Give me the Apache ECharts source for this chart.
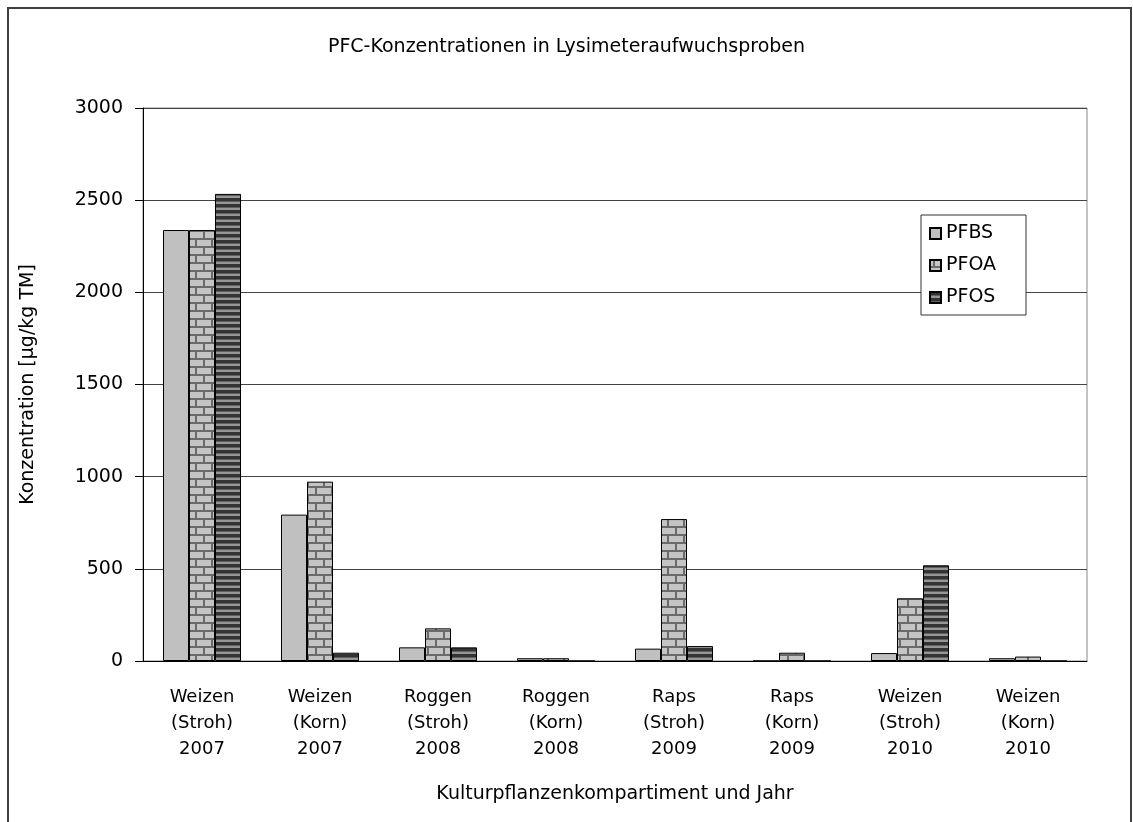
<!DOCTYPE html>
<html>
<head>
<meta charset="utf-8">
<script src="https://cdn.jsdelivr.net/npm/echarts@6/dist/echarts.min.js"></script>
<style>
  html, body { margin: 0; padding: 0; background: #fff; }
  #chart { width: 1133px; height: 822px; }
</style>
</head>
<body>
<div id="chart"></div>
<script>
var categories = [
  'Weizen\n(Stroh)\n2007', 'Weizen\n(Korn)\n2007', 'Roggen\n(Stroh)\n2008', 'Roggen\n(Korn)\n2008',
  'Raps\n(Stroh)\n2009', 'Raps\n(Korn)\n2009', 'Weizen\n(Stroh)\n2010', 'Weizen\n(Korn)\n2010'
];
var pfbs = [2338, 794, 74, 15, 67, 0, 43, 15];
var pfoa = [2338, 973, 177, 15, 770, 45, 340, 24];
var pfos = [2534, 45, 74, 0, 81, 0, 519, 0];

var font = 'DejaVu Sans, sans-serif';

// brick pattern for PFOA
function brick() {
  var c = document.createElement('canvas');
  c.width = 16; c.height = 16;
  var g = c.getContext('2d');
  g.fillStyle = '#c4c4c4';
  g.fillRect(0, 0, 16, 16);
  g.fillStyle = '#6a6a6a';
  g.fillRect(0, 6, 16, 2);
  g.fillRect(0, 14, 16, 2);
  g.fillRect(3, 0, 2, 6);
  g.fillRect(11, 8, 2, 6);
  return c;
}

// horizontal stripes for PFOS
function stripes() {
  var c = document.createElement('canvas');
  c.width = 6; c.height = 6;
  var g = c.getContext('2d');
  g.fillStyle = '#969696';
  g.fillRect(0, 0, 6, 6);
  g.fillStyle = '#333';
  g.fillRect(0, 0, 6, 3);
  g.fillStyle = '#606060';
  g.fillRect(0, 3, 6, 1);
  return c;
}

var chart = echarts.init(document.getElementById('chart'));
chart.setOption({
  animation: false,
  backgroundColor: '#fff',
  textStyle: { fontFamily: font, color: '#000' },
  title: {
    text: 'PFC-Konzentrationen in Lysimeteraufwuchsproben',
    left: 'center',
    top: 33,
    textStyle: { fontFamily: font, fontSize: 19, fontWeight: 'normal', color: '#000' }
  },
  graphic: [{
    type: 'rect',
    z: -1,
    shape: { x: 8, y: 8, width: 1123, height: 900 },
    style: { fill: 'none', stroke: '#404040', lineWidth: 2 }
  }],
  legend: {
    orient: 'vertical',
    left: 921,
    top: 215,
    padding: [9, 30, 8, 8],
    icon: 'rect',
    itemWidth: 11,
    itemHeight: 11,
    itemGap: 13,
    backgroundColor: '#fff',
    borderColor: '#333',
    borderWidth: 1,
    textStyle: { fontFamily: font, fontSize: 19, color: '#000' },
    data: ['PFBS', 'PFOA', 'PFOS']
  },
  grid: {
    left: 143,
    right: 46,
    top: 108,
    bottom: 161,
    show: true,
    borderColor: '#888',
    borderWidth: 1
  },
  xAxis: {
    type: 'category',
    data: categories,
    name: 'Kulturpflanzenkompartiment und Jahr',
    nameLocation: 'middle',
    nameGap: 124,
    nameTextStyle: { fontFamily: font, fontSize: 19, color: '#000' },
    axisLine: { lineStyle: { color: '#000', width: 1 } },
    axisTick: { length: 7, lineStyle: { color: '#000' } },
    axisLabel: {
      interval: 0,
      margin: 23,
      lineHeight: 26,
      fontFamily: font,
      fontSize: 18,
      color: '#000'
    }
  },
  yAxis: {
    type: 'value',
    min: 0,
    max: 3000,
    interval: 500,
    name: 'Konzentration [µg/kg TM]',
    nameLocation: 'middle',
    nameGap: 105,
    nameTextStyle: { fontFamily: font, fontSize: 19, color: '#000' },
    axisLine: { show: true, lineStyle: { color: '#000', width: 1 } },
    axisTick: { show: true, length: 8, lineStyle: { color: '#000' } },
    axisLabel: {
      margin: 20, fontFamily: font, fontSize: 19, color: '#000',
      formatter: function(v) { return String(v); }
    },
    splitLine: { lineStyle: { color: '#444', width: 1 } }
  },
  series: [
    {
      name: 'PFBS',
      type: 'bar',
      barWidth: 26,
      barGap: '0%',
      data: pfbs,
      itemStyle: { color: '#c0c0c0', borderColor: '#000', borderWidth: 1 }
    },
    {
      name: 'PFOA',
      type: 'bar',
      barWidth: 26,
      barGap: '0%',
      data: pfoa,
      itemStyle: { color: { image: brick(), repeat: 'repeat' }, borderColor: '#000', borderWidth: 1 }
    },
    {
      name: 'PFOS',
      type: 'bar',
      barWidth: 26,
      barGap: '0%',
      data: pfos,
      itemStyle: { color: { image: stripes(), repeat: 'repeat' }, borderColor: '#000', borderWidth: 1 }
    }
  ]
});
window.addEventListener('resize', function() { chart.resize(); });
</script>
</body>
</html>
